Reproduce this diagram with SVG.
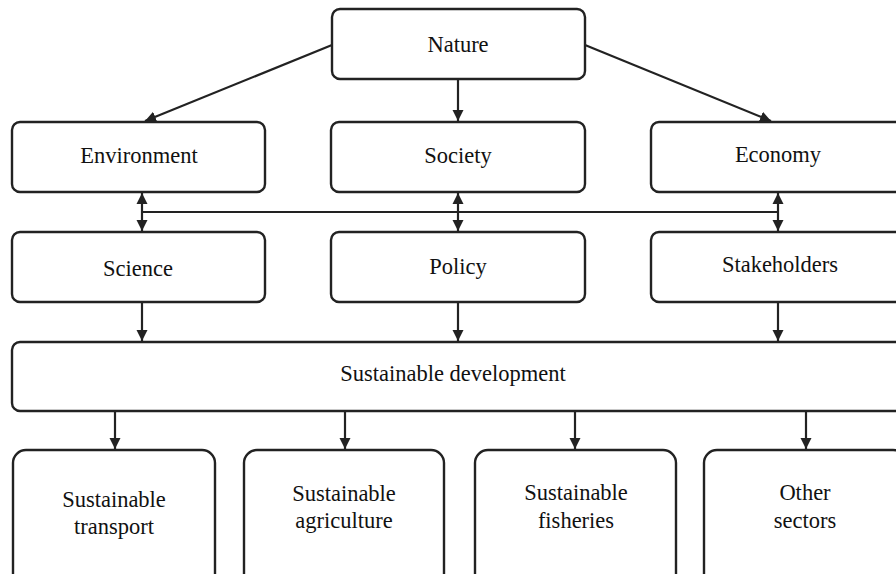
<svg xmlns="http://www.w3.org/2000/svg" width="896" height="574" viewBox="0 0 896 574">
<style>
.box{fill:#fff;stroke:#222;stroke-width:2.4}
.t{font-family:"Liberation Serif","Times New Roman",serif;font-size:22.5px;fill:#111;text-anchor:middle}
.c{stroke:#222;stroke-width:2.2;fill:none}
</style>
<defs>
<marker id="a" viewBox="0 0 10 10" refX="10" refY="5" markerWidth="11" markerHeight="12" markerUnits="userSpaceOnUse" orient="auto-start-reverse">
<path d="M0,0 L10,5 L0,10 z" fill="#222"/>
</marker>
</defs>
<rect width="896" height="574" fill="#fff"/>
<g id="connectors">
<line class="c" x1="332" y1="45" x2="145" y2="121" marker-end="url(#a)"/>
<line class="c" x1="458" y1="79" x2="458" y2="121" marker-end="url(#a)"/>
<line class="c" x1="585" y1="45" x2="771" y2="121" marker-end="url(#a)"/>
<line class="c" x1="142" y1="212" x2="778" y2="212"/>
<line class="c" x1="142" y1="193" x2="142" y2="231" marker-start="url(#a)" marker-end="url(#a)"/>
<line class="c" x1="458" y1="193" x2="458" y2="231" marker-start="url(#a)" marker-end="url(#a)"/>
<line class="c" x1="778" y1="193" x2="778" y2="231" marker-start="url(#a)" marker-end="url(#a)"/>
<line class="c" x1="142" y1="303" x2="142" y2="341" marker-end="url(#a)"/>
<line class="c" x1="458" y1="303" x2="458" y2="341" marker-end="url(#a)"/>
<line class="c" x1="778" y1="303" x2="778" y2="341" marker-end="url(#a)"/>
<line class="c" x1="115" y1="412" x2="115" y2="449" marker-end="url(#a)"/>
<line class="c" x1="345" y1="412" x2="345" y2="449" marker-end="url(#a)"/>
<line class="c" x1="575" y1="412" x2="575" y2="449" marker-end="url(#a)"/>
<line class="c" x1="806" y1="412" x2="806" y2="449" marker-end="url(#a)"/>
</g>
<g id="nature"><rect class="box" x="332" y="9" width="253" height="70" rx="8"/><text class="t" x="458" y="52">Nature</text></g>
<g id="environment"><rect class="box" x="12" y="122" width="253" height="70" rx="8"/><text class="t" x="139" y="163">Environment</text></g>
<g id="society"><rect class="box" x="331" y="122" width="254" height="70" rx="8"/><text class="t" x="458" y="163">Society</text></g>
<g id="economy"><rect class="box" x="651" y="122" width="260" height="70" rx="8"/><text class="t" x="778" y="162">Economy</text></g>
<g id="science"><rect class="box" x="12" y="232" width="253" height="70" rx="8"/><text class="t" x="138" y="276">Science</text></g>
<g id="policy"><rect class="box" x="331" y="232" width="254" height="70" rx="8"/><text class="t" x="458" y="274">Policy</text></g>
<g id="stakeholders"><rect class="box" x="651" y="232" width="260" height="70" rx="8"/><text class="t" x="780" y="272">Stakeholders</text></g>
<g id="sustainable-development"><rect class="box" x="12" y="342" width="900" height="69" rx="8"/><text class="t" x="453" y="381">Sustainable development</text></g>
<g id="transport"><rect class="box" x="13" y="450" width="202" height="140" rx="13"/><text class="t" x="114" y="507">Sustainable</text><text class="t" x="114" y="534">transport</text></g>
<g id="agriculture"><rect class="box" x="244" y="450" width="200" height="140" rx="13"/><text class="t" x="344" y="501">Sustainable</text><text class="t" x="344" y="528">agriculture</text></g>
<g id="fisheries"><rect class="box" x="475" y="450" width="201" height="140" rx="13"/><text class="t" x="576" y="500">Sustainable</text><text class="t" x="576" y="528">fisheries</text></g>
<g id="other-sectors"><rect class="box" x="704" y="450" width="202" height="140" rx="13"/><text class="t" x="805" y="500">Other</text><text class="t" x="805" y="528">sectors</text></g>
</svg>
